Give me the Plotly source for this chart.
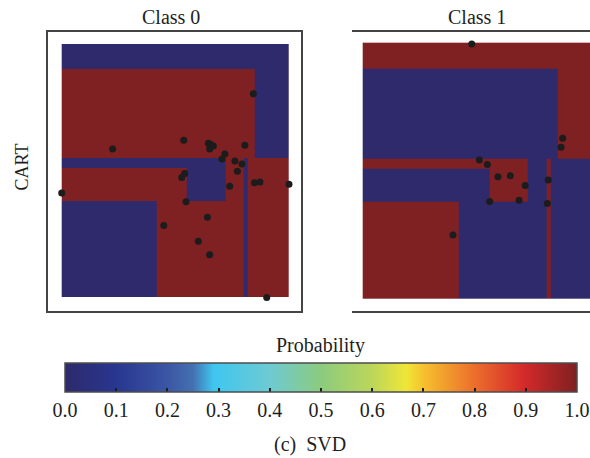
import plotly.graph_objects as go

# CART leaf boundaries in the normalised 2-D feature space
x_edges = [0.0, 0.42, 0.552, 0.72, 0.80, 0.82, 0.85, 1.0]
y_edges = [0.0, 0.38, 0.509, 0.548, 0.90, 1.0]

# predicted probability of class 0 for every leaf cell (rows bottom -> top)
p_class0 = [
    [0, 1, 1, 1, 0, 1, 1],
    [1, 1, 0, 1, 0, 1, 1],
    [0, 0, 0, 1, 0, 1, 1],
    [1, 1, 1, 1, 1, 1, 0],
    [0, 0, 0, 0, 0, 0, 0],
]
p_class1 = [[1 - v for v in row] for row in p_class0]

# training samples of each class
c0_x = [0.843, 0.537, 0.224, 0.645, 0.655, 0.667, 0.651, 0.806, 0.718, 0.705,
        0.762, 0.793, 0.773, 0.541, 0.528, 0.739, 0.848, 0.872, 1.000, 0.000,
        0.547, 0.641, 0.449, 0.601, 0.651, 0.902]
c0_y = [0.803, 0.619, 0.584, 0.607, 0.603, 0.596, 0.584, 0.599, 0.565, 0.545,
        0.537, 0.525, 0.496, 0.488, 0.472, 0.437, 0.451, 0.454, 0.445, 0.410,
        0.376, 0.314, 0.282, 0.219, 0.166, -0.003]
c1_x = [0.475, 0.871, 0.864, 0.508, 0.543, 0.589, 0.643, 0.708, 0.808, 0.553,
        0.681, 0.804, 0.393]
c1_y = [0.995, 0.627, 0.592, 0.542, 0.525, 0.477, 0.481, 0.443, 0.464, 0.380,
        0.385, 0.373, 0.250]

prob_ticks = [0.0, 0.1, 0.2, 0.3, 0.4, 0.5, 0.6, 0.7, 0.8, 0.9, 1.0]
prob_labels = ["0.0", "0.1", "0.2", "0.3", "0.4", "0.5", "0.6", "0.7", "0.8", "0.9", "1.0"]

probability_scale = [
    [0.00, "#2e2a6b"], [0.10, "#283690"], [0.20, "#3b56a4"], [0.25, "#4470b1"],
    [0.29, "#3ec6f0"], [0.40, "#6ecad3"], [0.50, "#8ccb7e"], [0.60, "#bcd65a"],
    [0.667, "#f0e637"], [0.70, "#f6c02e"], [0.80, "#ec6e2c"], [0.895, "#d52a2a"],
    [1.00, "#7f2022"],
]

W, H = 590, 458
SERIF = "Liberation Serif, Times New Roman, serif"
INK = "#1e1e1e"
FRAME = "#444444"


def px_x(p):
    return p / W


def px_y(p):
    return 1 - p / H


fig = go.Figure()

fig.add_trace(go.Heatmap(
    x=x_edges, y=y_edges, z=p_class0, zmin=0, zmax=1,
    colorscale=probability_scale, xaxis="x", yaxis="y", hoverinfo="skip",
    showscale=True,
    colorbar=dict(
        orientation="h", x=px_x(321), xanchor="center",
        y=px_y(362.7), yanchor="top",
        len=512, lenmode="pixels", thickness=29, thicknessmode="pixels",
        xpad=0, ypad=0, outlinecolor="#4d4d4d", outlinewidth=1.5,
        tickmode="array", tickvals=prob_ticks, ticktext=prob_labels,
        ticks="inside", ticklen=4, tickwidth=2, tickcolor=INK,
        tickfont=dict(family=SERIF, size=20, color=INK),
    ),
))
fig.add_trace(go.Heatmap(
    x=x_edges, y=y_edges, z=p_class1, zmin=0, zmax=1,
    colorscale=probability_scale, xaxis="x2", yaxis="y2", hoverinfo="skip",
    showscale=False,
))

dot = dict(size=7, color="#1c1c1c")
fig.add_trace(go.Scatter(x=c0_x, y=c0_y, mode="markers", marker=dot,
                         xaxis="x", yaxis="y", showlegend=False))
fig.add_trace(go.Scatter(x=c1_x, y=c1_y, mode="markers", marker=dot,
                         xaxis="x2", yaxis="y2", showlegend=False))

frame_axis = dict(showgrid=False, zeroline=False, showticklabels=False, ticks="",
                  showline=True, linecolor=FRAME, linewidth=1.5, fixedrange=True)

fig.update_layout(
    width=W, height=H,
    margin=dict(l=0, r=0, t=0, b=0),
    paper_bgcolor="white", plot_bgcolor="white",
    showlegend=False,
    xaxis=dict(frame_axis, domain=[px_x(48), px_x(301)], range=[-0.0603, 1.0528], mirror=True),
    yaxis=dict(frame_axis, domain=[px_y(311), px_y(32)], range=[-0.0566, 1.0475], mirror=True),
    xaxis2=dict(frame_axis, domain=[px_x(352), 1.0], range=[-0.0466, 0.99], mirror=True),
    yaxis2=dict(frame_axis, domain=[px_y(311.7), px_y(29.7)], range=[-0.0496, 1.0507],
                mirror=False),
    annotations=[
        dict(text="Class 0", x=px_x(171), y=px_y(16.5), xref="paper", yref="paper",
             showarrow=False, xanchor="center", yanchor="middle",
             font=dict(family=SERIF, size=20, color=INK)),
        dict(text="Class 1", x=px_x(477), y=px_y(16.5), xref="paper", yref="paper",
             showarrow=False, xanchor="center", yanchor="middle",
             font=dict(family=SERIF, size=20, color=INK)),
        dict(text="CART", x=px_x(21.7), y=px_y(166.7), xref="paper", yref="paper",
             showarrow=False, xanchor="center", yanchor="middle", textangle=-90,
             font=dict(family=SERIF, size=18, color=INK)),
        dict(text="Probability", x=px_x(320.5), y=px_y(345), xref="paper", yref="paper",
             showarrow=False, xanchor="center", yanchor="middle",
             font=dict(family=SERIF, size=20, color=INK)),
        dict(text="(c)\u00a0 SVD", x=px_x(310), y=px_y(444), xref="paper", yref="paper",
             showarrow=False, xanchor="center", yanchor="middle",
             font=dict(family=SERIF, size=20, color=INK)),
    ],
)

fig.write_html("out.html")
